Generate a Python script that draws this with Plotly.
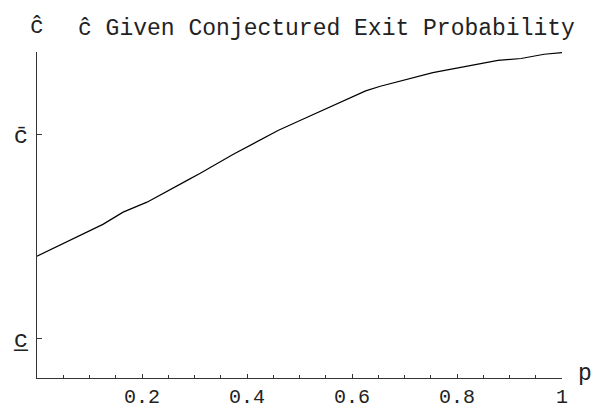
import plotly.graph_objects as go

# Data (y in units where c_low = 0, c_bar = 1)
p_vals = [0.0, 0.1255, 0.164, 0.2095, 0.286, 0.311, 0.374, 0.460, 0.502,
          0.626, 0.654, 0.693, 0.754, 0.878, 0.922, 0.966, 1.0]
c_hat = [0.403, 0.559, 0.619, 0.668, 0.775, 0.810, 0.903, 1.021, 1.070,
         1.214, 1.237, 1.263, 1.304, 1.364, 1.373, 1.394, 1.402]

x_tick_vals = [0.2, 0.4, 0.6, 0.8, 1.0]
x_tick_text = ["0.2", "0.4", "0.6", "0.8", "1"]
y_tick_vals = [0.0, 1.0]
y_tick_text = ["c\u0332", "c\u0304"]

title_text = "\u0109 Given Conjectured Exit Probability"
y_label = "\u0109"
x_label = "p"

FONT = "Liberation Mono, Courier New, monospace"

L, R, T, B = 37, 33, 52, 32
PW, PH = 595 - L - R, 410 - T - B


def px_x(px):
    return (px - L) / PW


def px_y(py):
    return (410 - B - py) / PH


fig = go.Figure()
fig.add_trace(go.Scatter(x=p_vals, y=c_hat, mode="lines",
                         line=dict(color="black", width=1.2),
                         showlegend=False, hoverinfo="skip"))

fig.update_layout(
    width=595, height=410,
    margin=dict(l=L, r=R, t=T, b=B, autoexpand=False),
    paper_bgcolor="white", plot_bgcolor="white",
    font=dict(family=FONT, size=20, color="#222"),
    xaxis=dict(range=[0, 1], showline=True, linecolor="#333", linewidth=1,
               showgrid=False, zeroline=False, automargin=False,
               tickvals=x_tick_vals, ticktext=x_tick_text,
               ticks="inside", ticklen=4, tickcolor="#333",
               minor=dict(tick0=0, dtick=0.05, ticks="inside", ticklen=3,
                          tickcolor="#333", showgrid=False),
               tickfont=dict(family=FONT, size=20, color="#222")),
    yaxis=dict(range=[-0.195, 1.405], showline=True, linecolor="#333", linewidth=1,
               showgrid=False, zeroline=False, automargin=False,
               tickvals=y_tick_vals, ticktext=y_tick_text,
               ticks="inside", ticklen=5, tickcolor="#333",
               ticklabelstandoff=3,
               tickfont=dict(family=FONT, size=24, color="#222")),
    annotations=[
        dict(text=title_text, xref="paper", yref="paper", x=px_x(76),
             y=px_y(29), xanchor="left", yanchor="middle",
             showarrow=False, font=dict(family=FONT, size=23, color="#222")),
        dict(text=y_label, xref="paper", yref="paper", x=px_x(36.5), y=px_y(27),
             xanchor="center", yanchor="middle", showarrow=False,
             font=dict(family=FONT, size=23, color="#222")),
        dict(text=x_label, xref="paper", yref="paper", x=px_x(585),
             y=px_y(374), xanchor="center", yanchor="middle",
             showarrow=False, font=dict(family=FONT, size=23, color="#222")),
    ],
)

fig.write_html("out.html")
